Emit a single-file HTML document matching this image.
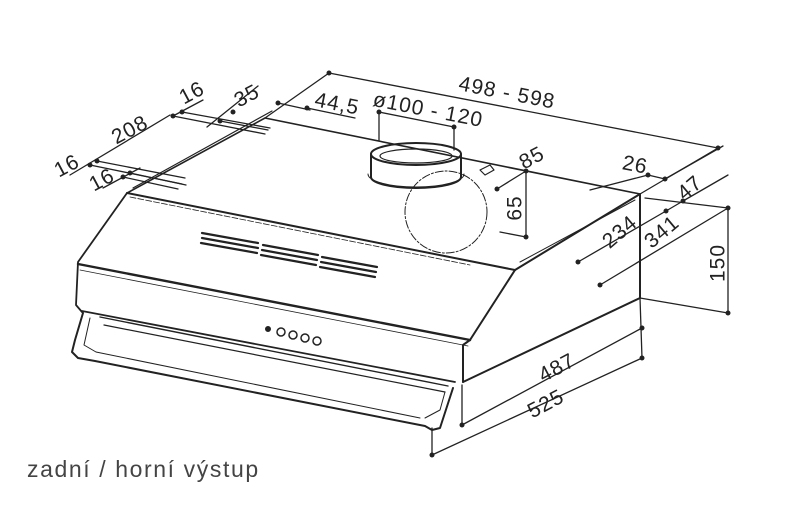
<!DOCTYPE html>
<html><head><meta charset="utf-8"><style>
html,body{margin:0;padding:0;background:#fff;}
svg{display:block}
text{font-family:"Liberation Sans",sans-serif;fill:#222;}
</style></head><body>
<svg width="800" height="530" viewBox="0 0 800 530" xmlns="http://www.w3.org/2000/svg">
<g fill="none" stroke="#222" stroke-linecap="round" stroke-linejoin="round">
<path d="M127,193 L265,118 L640,194" stroke-width="1.6"/>
<path d="M133,188 L272,111" stroke-width="1.2"/>
<path d="M127,193 L515,270" stroke-width="2"/>
<path d="M130,197 L470,265" stroke-width="0.8" stroke-dasharray="6,2"/>
<path d="M127,193 L78,262 L76,305 L82,312" stroke-width="1.8"/>
<path d="M78,264 L470,340" stroke-width="2.4"/>
<path d="M80,270 L468,346" stroke-width="0.8"/>
<path d="M82,311 L455,382" stroke-width="1.8"/>
<path d="M515,270 L640,194 L640,298 L463,382" stroke-width="2"/>
<path d="M515,270 L470,340 L463,345 L463,382" stroke-width="2"/>
<path d="M520,262 L635,200" stroke-width="1"/>
<path d="M83,313 L75,340 L72,352 L78,358 L95,361 L425,426 L432,430 L440,428 L453,388" stroke-width="2"/>
<path d="M90,318 L84,345 L96,352 L420,418" stroke-width="1"/>
<path d="M100,317 L448,386" stroke-width="1.4"/>
<path d="M104,325 L445,392" stroke-width="1.2"/>
<path d="M445,392 L440,410 L425,418" stroke-width="1"/>
<g stroke-width="2.2">
<path d="M202,233 L258,243 M202,238 L258,248 M201,243 L257,253"/>
<path d="M263,245 L318,255 M262,250 L317,260 M261,255 L316,265"/>
<path d="M322,257 L377,267 M321,262 L376,272 M320,267 L375,277"/>
</g>
<circle cx="268" cy="329" r="2.5" fill="#222"/>
<circle cx="281" cy="332" r="4" stroke-width="1.5"/>
<circle cx="293" cy="335" r="4" stroke-width="1.5"/>
<circle cx="305" cy="338" r="4" stroke-width="1.5"/>
<circle cx="317" cy="341" r="4" stroke-width="1.5"/>
<ellipse cx="416" cy="154" rx="45" ry="11" stroke-width="2"/>
<ellipse cx="416" cy="156" rx="36" ry="7" stroke-width="1.2"/>
<path d="M371,154 L371,177 M461,154 L461,177" stroke-width="2"/>
<path d="M371,177 A45,11 0 0 0 461,177" stroke-width="2"/>
<path d="M368,174 A48,13 0 0 0 464,174" stroke-width="1"/>
<circle cx="446" cy="212" r="41" stroke-width="1" stroke-dasharray="8,2,2,2"/>
<path d="M480,170 L490,165 L494,170 L485,175 Z" stroke-width="1.2"/>
</g>
<g fill="none" stroke="#222" stroke-width="1.3" stroke-linecap="round">
<line x1="329" y1="73" x2="718" y2="148"/>
<line x1="265" y1="118" x2="329" y2="73"/>
<line x1="718" y1="148" x2="640" y2="194"/>
<line x1="278" y1="103" x2="310" y2="110"/>
<line x1="307" y1="108" x2="355" y2="118"/>
<line x1="379" y1="112" x2="454" y2="127"/>
<line x1="379" y1="112" x2="379" y2="140"/>
<line x1="454" y1="127" x2="454" y2="150"/>
<line x1="70" y1="175" x2="170" y2="115"/>
<line x1="103" y1="188" x2="140" y2="168"/>
<line x1="173" y1="116" x2="203" y2="100"/>
<line x1="207" y1="127" x2="258" y2="86"/>
<line x1="97" y1="161" x2="185" y2="178"/>
<line x1="90" y1="165" x2="182" y2="184"/>
<line x1="130" y1="173" x2="186" y2="185"/>
<line x1="123" y1="177" x2="178" y2="189"/>
<line x1="182" y1="112" x2="270" y2="128"/>
<line x1="173" y1="116" x2="265" y2="134"/>
<line x1="220" y1="121" x2="268" y2="130"/>
<line x1="497" y1="189" x2="526" y2="171"/>
<line x1="526" y1="171" x2="526" y2="237"/>
<line x1="500" y1="232" x2="526" y2="237"/>
<line x1="590" y1="190" x2="648" y2="175"/>
<line x1="648" y1="175" x2="665" y2="179"/>
<line x1="665" y1="179" x2="723" y2="146"/>
<line x1="578" y1="262" x2="666" y2="211"/>
<line x1="666" y1="211" x2="683" y2="201"/>
<line x1="683" y1="201" x2="728" y2="175"/>
<line x1="600" y1="285" x2="728" y2="208"/>
<line x1="645" y1="198" x2="728" y2="208"/>
<line x1="640" y1="298" x2="728" y2="313"/>
<line x1="728" y1="208" x2="728" y2="313"/>
<line x1="640" y1="298" x2="642" y2="358"/>
<line x1="462" y1="425" x2="642" y2="328"/>
<line x1="432" y1="455" x2="642" y2="358"/>
<line x1="462" y1="385" x2="462" y2="425"/>
<line x1="432" y1="428" x2="432" y2="455"/>
</g>
<g fill="#222" stroke="none">
<circle cx="329" cy="73" r="2.5"/><circle cx="718" cy="148" r="2.5"/>
<circle cx="307" cy="108" r="2.5"/><circle cx="278" cy="103" r="2.5"/>
<circle cx="379" cy="112" r="2.5"/><circle cx="454" cy="127" r="2.5"/>
<circle cx="173" cy="116" r="2.5"/><circle cx="182" cy="112" r="2.5"/>
<circle cx="220" cy="121" r="2.5"/><circle cx="233" cy="112" r="2.5"/>
<circle cx="90" cy="165" r="2.5"/><circle cx="97" cy="161" r="2.5"/>
<circle cx="123" cy="177" r="2.5"/><circle cx="130" cy="173" r="2.5"/>
<circle cx="526" cy="171" r="2.5"/><circle cx="526" cy="237" r="2.5"/><circle cx="497" cy="189" r="2.5"/>
<circle cx="648" cy="175" r="2.5"/><circle cx="665" cy="179" r="2.5"/>
<circle cx="683" cy="201" r="2.5"/><circle cx="666" cy="211" r="2.5"/>
<circle cx="578" cy="262" r="2.5"/><circle cx="600" cy="285" r="2.5"/>
<circle cx="728" cy="208" r="2.5"/><circle cx="728" cy="313" r="2.5"/>
<circle cx="642" cy="328" r="2.5"/><circle cx="642" cy="358" r="2.5"/>
<circle cx="462" cy="425" r="2.5"/><circle cx="432" cy="455" r="2.5"/>
</g>
<g font-size="21" text-anchor="middle" dominant-baseline="central" letter-spacing="1">
<text transform="translate(507,93) rotate(11)">498 - 598</text>
<text transform="translate(428,110) rotate(11)">ø100 - 120</text>
<text transform="translate(337,104) rotate(11)">44,5</text>
<text transform="translate(247,96) rotate(-28)">35</text>
<text transform="translate(192,93) rotate(-28)">16</text>
<text transform="translate(130,130) rotate(-28)">208</text>
<text transform="translate(67,166) rotate(-28)">16</text>
<text transform="translate(102,180) rotate(-28)">16</text>
<text transform="translate(532,158) rotate(-28)">85</text>
<text transform="translate(515,208) rotate(-90)">65</text>
<text transform="translate(635,165) rotate(11)">26</text>
<text transform="translate(690,188) rotate(-40)">47</text>
<text transform="translate(620,232) rotate(-40)">234</text>
<text transform="translate(662,232) rotate(-40)">341</text>
<text transform="translate(718,263) rotate(-90)">150</text>
<text transform="translate(557,368) rotate(-28)">487</text>
<text transform="translate(546,404) rotate(-28)">525</text>
</g>
<text x="27" y="477" font-size="23" letter-spacing="1.6" style="fill:#444">zadní / horní výstup</text>
</svg>
</body></html>
